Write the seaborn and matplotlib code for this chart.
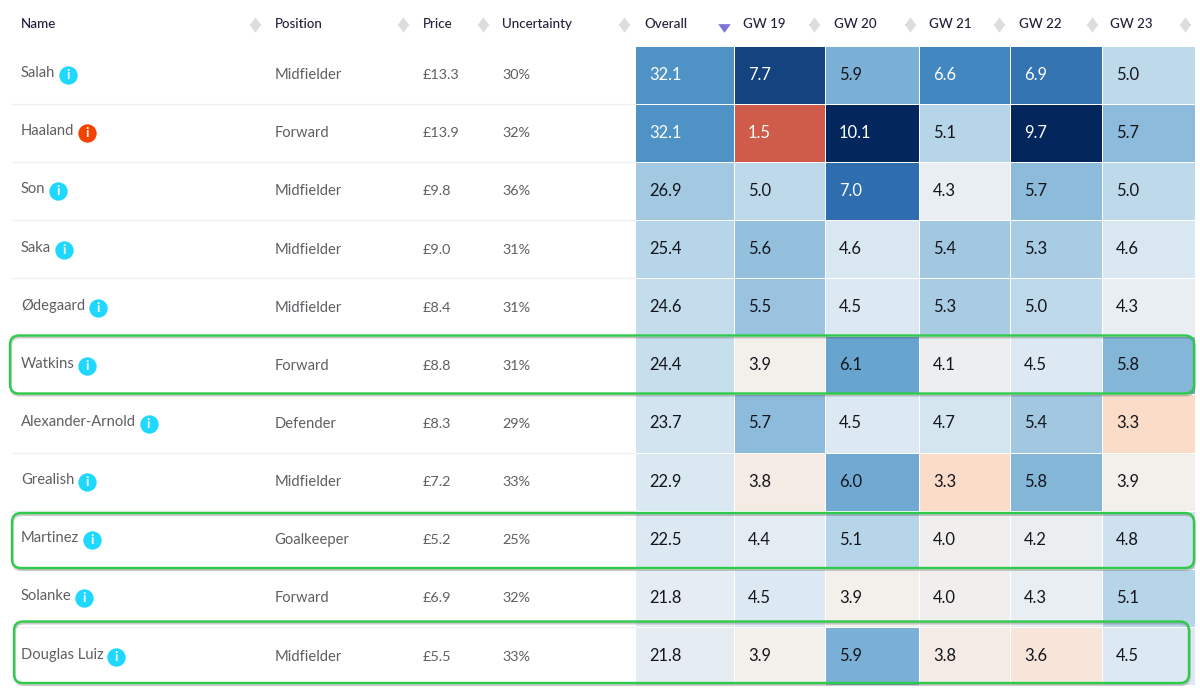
import numpy as np
import pandas as pd
import seaborn as sns
import matplotlib
matplotlib.use("Agg")
import matplotlib.pyplot as plt
import matplotlib.patheffects as pe
from matplotlib.colors import LinearSegmentedColormap
from matplotlib.patches import FancyBboxPatch

names = ["Salah", "Haaland", "Son", "Saka", "Ødegaard", "Watkins", "Alexander-Arnold",
         "Grealish", "Martinez", "Solanke", "Douglas Luiz"]
positions = ["Midfielder", "Forward", "Midfielder", "Midfielder", "Midfielder", "Forward",
             "Defender", "Midfielder", "Goalkeeper", "Forward", "Midfielder"]
prices = ["£13.3", "£13.9", "£9.8", "£9.0", "£8.4", "£8.8", "£8.3", "£7.2", "£5.2", "£6.9", "£5.5"]
uncertainty = ["30%", "32%", "36%", "31%", "31%", "31%", "29%", "33%", "25%", "32%", "33%"]
overall = [32.1, 32.1, 26.9, 25.4, 24.6, 24.4, 23.7, 22.9, 22.5, 21.8, 21.8]
gw19 = [7.7, 1.5, 5.0, 5.6, 5.5, 3.9, 5.7, 3.8, 4.4, 4.5, 3.9]
gw20 = [5.9, 10.1, 7.0, 4.6, 4.5, 6.1, 4.5, 6.0, 5.1, 3.9, 5.9]
gw21 = [6.6, 5.1, 4.3, 5.4, 5.3, 4.1, 4.7, 3.3, 4.0, 4.0, 3.8]
gw22 = [6.9, 9.7, 5.7, 5.3, 5.0, 4.5, 5.4, 5.8, 4.2, 4.3, 3.6]
gw23 = [5.0, 5.7, 5.0, 4.6, 4.3, 5.8, 3.3, 3.9, 4.8, 5.1, 4.5]

W, H = 1200, 690
TOP, ROW = 45.5, 58.15
plt.rcParams["font.family"] = ["Lato", "DejaVu Sans"]

# colour scale of the gameweek cells, overall uses the same one x5
VMIN, VMAX = 1.0, 10.0
stops = [(1.0, "#c8503f"), (1.5, "#cf5c4a"), (3.3, "#fbdcc9"), (3.9, "#f3efeb"), (4.3, "#e8eef2"),
         (4.5, "#dde9f2"), (4.75, "#d2e4f0"), (5.0, "#bdd9ea"), (5.7, "#8dbbdb"), (6.1, "#68a5cf"),
         (6.6, "#4388c0"), (7.0, "#2e6dae"), (7.7, "#134480"), (9.7, "#03265c"), (10.0, "#03265c")]
cmap = LinearSegmentedColormap.from_list(
    "fpl", [((v - VMIN) / (VMAX - VMIN), c) for v, c in stops])

fig = plt.figure(figsize=(12, 6.9), dpi=100, facecolor="white")


def px_axes(x0, y0, x1, y1):
    return fig.add_axes([x0 / W, 1 - y1 / H, (x1 - x0) / W, (y1 - y0) / H])


def cell_column(x0, x1, values, scale, white_from):
    ax = px_axes(x0, TOP, x1, TOP + ROW * len(values))
    df = pd.DataFrame({"v": values})
    sns.heatmap(df, ax=ax, cmap=cmap, vmin=VMIN * scale, vmax=VMAX * scale, cbar=False,
                annot=True, fmt=".1f", annot_kws={"fontsize": 11.9},
                linewidths=0.6, linecolor="white", xticklabels=False, yticklabels=False)
    for t, v in zip(ax.texts, values):
        t.set_ha("left")
        t.set_x(14 / (x1 - x0))
        t.set_color("white" if v >= white_from or v < 2 else "#15151c")
    return ax


cell_column(635, 734, overall, 5, 30)
edges = [734, 825, 919, 1010, 1102, 1195]
for i, col in enumerate([gw19, gw20, gw21, gw22, gw23]):
    cell_column(edges[i], edges[i + 1], col, 1, 6.5)

# overlay in pixel coordinates for the table part
ov = fig.add_axes([0, 0, 1, 1], zorder=5)
ov.set_xlim(0, W)
ov.set_ylim(H, 0)
ov.axis("off")

up = [(-1, -0.7), (1, -0.7), (0, 0.7)]
down = [(-1, 0.7), (1, 0.7), (0, -0.7)]
headers = ["Name", "Position", "Price", "Uncertainty", "Overall", "GW 19", "GW 20", "GW 21", "GW 22", "GW 23"]
header_x = [21, 275, 423, 502, 644, 743, 834, 929, 1019, 1110]
sort_x = [255, 403, 483, 624, None, 814, 910, 999, 1092, 1185]
for label, x, sx in zip(headers, header_x, sort_x):
    ov.text(x, 24, label, fontsize=9.6, color="#23203a", va="center", ha="left", fontweight="medium")
    if sx is not None:
        ov.scatter([sx], [20.5], marker=up, s=75, color="#dcdcdc", linewidths=0)
        ov.scatter([sx], [28], marker=down, s=75, color="#dcdcdc", linewidths=0)
ov.scatter([724], [28], marker=down, s=80, color="#7b74d6", linewidths=0)

fig.canvas.draw()
renderer = fig.canvas.get_renderer()
GREY = "#5f5f63"
for i, name in enumerate(names):
    y = TOP + ROW * (i + 0.5) + 0.5
    t = ov.text(21, y - 2, name, fontsize=10.6, color=GREY, va="center", ha="left")
    ov.text(274.5, y, positions[i], fontsize=10.6, color=GREY, va="center", ha="left")
    ov.text(423, y, prices[i], fontsize=10.4, color=GREY, va="center", ha="left")
    ov.text(502, y, uncertainty[i], fontsize=10.4, color=GREY, va="center", ha="left")
    # info icon sits just after the name
    xi = t.get_window_extent(renderer).x1 + 12.5
    ov.scatter([xi], [y], s=175, color="#f04400" if name == "Haaland" else "#1fd8ff", linewidths=0)
    ov.text(xi, y, "i", fontsize=9.5, fontweight="bold", color="white", ha="center", va="center")
    if i < len(names) - 1:
        ov.plot([12, 635], [TOP + ROW * (i + 1)] * 2, color="#efeff1", lw=0.9, zorder=0)

# green highlight boxes around the three picks
boxes = [(10, 335.5, 1194, 393.5), (12, 513, 1194, 568), (14, 621.5, 1189, 683)]
for x0, y0, x1, y1 in boxes:
    box = FancyBboxPatch((x0 + 8, y0 + 8), x1 - x0 - 16, y1 - y0 - 16,
                         boxstyle="round,pad=8,rounding_size=9", fill=False,
                         edgecolor="#2ecb4a", linewidth=1.7, zorder=6)
    box.set_path_effects([pe.SimpleLineShadow(offset=(0.5, -1.3), shadow_color="#444444", alpha=0.28),
                          pe.Normal()])
    ov.add_patch(box)

fig.savefig("out.png", dpi=100)
